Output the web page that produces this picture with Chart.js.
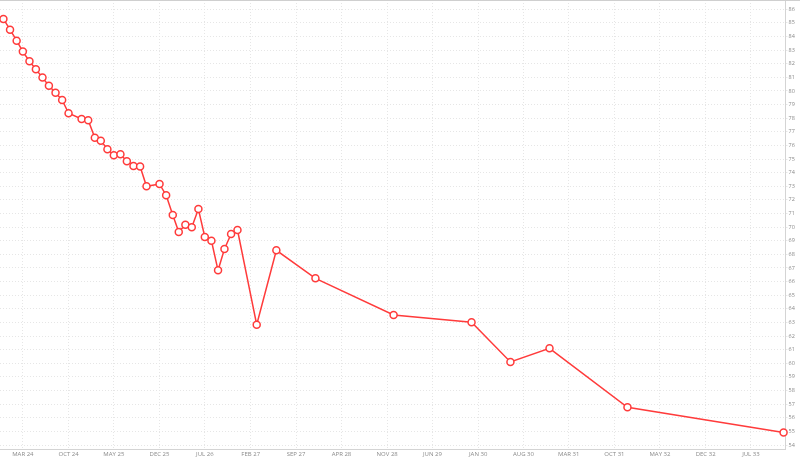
<!DOCTYPE html>
<html>
<head>
<meta charset="utf-8">
<script src="https://cdn.jsdelivr.net/npm/chart.js@4"></script>
<style>
    body { margin: 0; background: #fff; }
    canvas { display: block; }
</style>
</head>
<body>
<canvas id="graph" width="800" height="459"></canvas>
<script>
// monthly readings, then sparser ones
let dates = [
    "2023-12-01", "2024-01-01", "2024-02-01", "2024-03-01", "2024-04-01", "2024-05-01",
    "2024-06-01", "2024-07-01", "2024-08-01", "2024-09-01", "2024-10-01", "2024-12-01",
    "2025-01-01", "2025-02-01", "2025-03-01", "2025-04-01", "2025-05-01", "2025-06-01",
    "2025-07-01", "2025-08-01", "2025-09-01", "2025-10-01", "2025-12-01", "2026-01-01",
    "2026-02-01", "2026-03-01", "2026-04-01", "2026-05-01", "2026-06-01", "2026-07-01",
    "2026-08-01", "2026-09-01", "2026-10-01", "2026-11-01", "2026-12-01", "2027-03-01",
    "2027-06-01", "2027-12-01", "2028-12-01", "2029-12-01", "2030-06-01", "2030-12-01",
    "2031-12-01", "2033-12-01"
];
let values = [
    85.29, 84.50, 83.69, 82.89, 82.18, 81.59,
    80.98, 80.39, 79.87, 79.34, 78.36, 77.94,
    77.85, 76.57, 76.35, 75.72, 75.28, 75.35,
    74.84, 74.49, 74.45, 73.00, 73.17, 72.34,
    70.89, 69.64, 70.18, 69.99, 71.33, 69.28,
    69.00, 66.83, 68.40, 69.50, 69.79, 62.84,
    68.30, 66.24, 63.55, 63.01, 60.10, 61.10,
    56.77, 54.92
];
let tickDates = [
    "2024-03-01", "2024-10-01", "2025-05-01", "2025-12-01", "2026-07-01", "2027-02-01",
    "2027-09-01", "2028-04-01", "2028-11-01", "2029-06-01", "2030-01-01", "2030-08-01",
    "2031-03-01", "2031-10-01", "2032-05-01", "2032-12-01", "2033-07-01"
];
let monthNames = ["JAN", "FEB", "MAR", "APR", "MAY", "JUN", "JUL", "AUG", "SEP", "OCT", "NOV", "DEC"];

let xMin = Date.parse("2023-11-15");
let xMax = Date.parse("2033-12-10");
let yMin = 53.67;
let yMax = 86.68;

let points = [];
for(let i = 0; i < dates.length; i++){
    points.push({x: Date.parse(dates[i]), y: values[i]});
}

function monthLabel(value){
    let d = new Date(value);
    return monthNames[d.getUTCMonth()] + " " + String(d.getUTCFullYear()).slice(2);
}

// solid line on top of the plot
const topLine = {
    id: "topLine",
    afterDraw(chart){
        let ctx = chart.ctx;
        ctx.save();
        ctx.strokeStyle = "#cfcfcf";
        ctx.lineWidth = 1;
        ctx.beginPath();
        ctx.moveTo(0, 0.5);
        ctx.lineTo(chart.width, 0.5);
        ctx.stroke();
        ctx.restore();
    }
};

const data = {
    datasets: [{
        data: points,
        borderColor: "#ff3b3b",
        borderWidth: 1.5,
        backgroundColor: "#ffffff",
        pointBackgroundColor: "#ffffff",
        pointBorderColor: "#ff3b3b",
        pointBorderWidth: 1.5,
        pointRadius: 3.5,
        tension: 0,
        clip: false
    }]
};

const config = {
    type: "line",
    data: data,
    plugins: [topLine],
    options: {
        responsive: false,
        animation: false,
        layout: {padding: 0, autoPadding: false},
        plugins: {
            legend: {display: false},
            tooltip: {enabled: false}
        },
        scales: {
            x: {
                type: "linear",
                min: xMin,
                max: xMax,
                afterBuildTicks: (scale) => {
                    scale.ticks = tickDates.map(d => ({value: Date.parse(d)}));
                },
                afterFit: (scale) => {
                    scale.height = 9.5;
                    scale.paddingLeft = 0;
                    scale.paddingRight = 0;
                },
                ticks: {
                    autoSkip: false,
                    maxRotation: 0,
                    padding: 1,
                    color: "#8a8a8a",
                    font: {family: "Open Sans", size: 6},
                    callback: (value) => monthLabel(value)
                },
                grid: {
                    color: "#e6e6e6",
                    drawTicks: false
                },
                border: {
                    color: "#d4d4d4",
                    dash: [1, 2]
                }
            },
            y: {
                position: "right",
                min: yMin,
                max: yMax,
                afterFit: (scale) => {
                    scale.width = 14.5;
                    scale.paddingTop = 0;
                    scale.paddingBottom = 0;
                },
                ticks: {
                    stepSize: 1,
                    includeBounds: false,
                    autoSkip: false,
                    padding: 1,
                    color: "#8a8a8a",
                    font: {family: "Open Sans", size: 5.5}
                },
                grid: {
                    color: "#e6e6e6",
                    tickLength: 2
                },
                border: {
                    color: "#d4d4d4",
                    dash: [1, 2]
                }
            }
        }
    }
};

let myChart = new Chart(
    document.getElementById("graph"),
    config
);
</script>
</body>
</html>
